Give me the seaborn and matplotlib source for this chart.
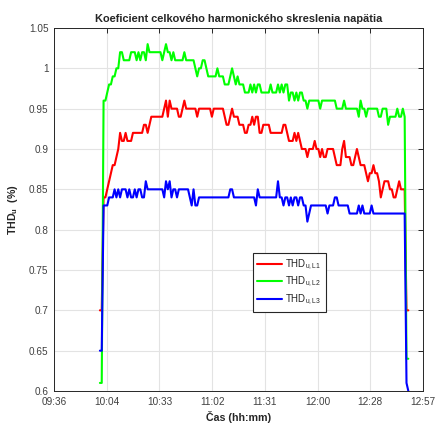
import numpy as np
import pandas as pd
import matplotlib
matplotlib.use("Agg")
import matplotlib.pyplot as plt
import seaborn as sns
from matplotlib.lines import Line2D

# time in minutes after 09:36, one sample per minute
minutes = np.arange(25, 194)

thd_l1 = [
    0.70, 0.70, 0.84, 0.84, 0.85, 0.86, 0.87, 0.88, 0.88, 0.89,
    0.90, 0.92, 0.91, 0.91, 0.92, 0.91, 0.91, 0.91, 0.92, 0.92,
    0.92, 0.92, 0.92, 0.92, 0.93, 0.93, 0.92, 0.93, 0.94, 0.94,
    0.94, 0.94, 0.94, 0.94, 0.94, 0.95, 0.96, 0.94, 0.96, 0.95,
    0.95, 0.95, 0.95, 0.94, 0.94, 0.95, 0.96, 0.95, 0.95, 0.95,
    0.95, 0.95, 0.95, 0.94, 0.95, 0.95, 0.95, 0.95, 0.95, 0.95,
    0.95, 0.94, 0.95, 0.95, 0.95, 0.95, 0.95, 0.95, 0.94, 0.93,
    0.93, 0.94, 0.95, 0.94, 0.94, 0.94, 0.93, 0.93, 0.93, 0.92,
    0.92, 0.93, 0.93, 0.94, 0.93, 0.94, 0.94, 0.92, 0.92, 0.93,
    0.93, 0.93, 0.93, 0.92, 0.92, 0.92, 0.92, 0.92, 0.92, 0.92,
    0.93, 0.93, 0.92, 0.91, 0.91, 0.91, 0.92, 0.91, 0.92, 0.91,
    0.90, 0.90, 0.90, 0.89, 0.90, 0.90, 0.90, 0.91, 0.90, 0.90,
    0.89, 0.90, 0.89, 0.89, 0.90, 0.90, 0.90, 0.90, 0.89, 0.88,
    0.88, 0.88, 0.90, 0.91, 0.89, 0.89, 0.89, 0.88, 0.88, 0.89,
    0.90, 0.89, 0.88, 0.88, 0.88, 0.87, 0.86, 0.87, 0.87, 0.88,
    0.87, 0.87, 0.86, 0.84, 0.85, 0.86, 0.86, 0.86, 0.85, 0.85,
    0.84, 0.84, 0.85, 0.86, 0.85, 0.85, 0.85, 0.70, 0.70,
]

thd_l2 = [
    0.61, 0.61, 0.96, 0.96, 0.97, 0.98, 0.98, 0.99, 0.99, 1.00,
    1.00, 1.02, 1.02, 1.01, 1.01, 1.01, 1.01, 1.02, 1.02, 1.02,
    1.01, 1.02, 1.01, 1.02, 1.02, 1.01, 1.03, 1.02, 1.02, 1.02,
    1.02, 1.02, 1.02, 1.02, 1.01, 1.02, 1.03, 1.02, 1.02, 1.01,
    1.02, 1.01, 1.01, 1.01, 1.01, 1.01, 1.02, 1.01, 1.01, 1.01,
    1.01, 1.01, 1.00, 0.99, 1.00, 1.00, 1.01, 1.01, 1.00, 0.99,
    0.99, 0.99, 0.99, 0.99, 1.00, 0.99, 0.99, 0.99, 0.98, 0.98,
    0.98, 0.99, 1.00, 0.99, 0.98, 0.99, 0.98, 0.98, 0.98, 0.97,
    0.97, 0.97, 0.98, 0.97, 0.98, 0.97, 0.98, 0.98, 0.97, 0.97,
    0.97, 0.97, 0.97, 0.98, 0.97, 0.97, 0.97, 0.98, 0.97, 0.98,
    0.97, 0.98, 0.98, 0.96, 0.97, 0.97, 0.96, 0.97, 0.96, 0.97,
    0.97, 0.96, 0.96, 0.95, 0.96, 0.96, 0.96, 0.96, 0.96, 0.96,
    0.95, 0.96, 0.96, 0.96, 0.96, 0.96, 0.96, 0.96, 0.96, 0.95,
    0.95, 0.95, 0.95, 0.96, 0.95, 0.95, 0.95, 0.95, 0.95, 0.95,
    0.95, 0.94, 0.96, 0.95, 0.95, 0.94, 0.95, 0.95, 0.95, 0.95,
    0.95, 0.95, 0.94, 0.94, 0.95, 0.95, 0.95, 0.93, 0.94, 0.94,
    0.94, 0.94, 0.95, 0.94, 0.94, 0.95, 0.94, 0.64, 0.64,
]

thd_l3 = [
    0.65, 0.65, 0.83, 0.83, 0.83, 0.84, 0.84, 0.84, 0.85, 0.84,
    0.85, 0.84, 0.85, 0.85, 0.85, 0.84, 0.85, 0.84, 0.84, 0.85,
    0.84, 0.85, 0.85, 0.84, 0.84, 0.86, 0.85, 0.85, 0.85, 0.85,
    0.85, 0.85, 0.85, 0.85, 0.85, 0.84, 0.86, 0.85, 0.86, 0.84,
    0.85, 0.85, 0.84, 0.85, 0.85, 0.85, 0.85, 0.85, 0.85, 0.84,
    0.83, 0.85, 0.83, 0.83, 0.84, 0.84, 0.84, 0.84, 0.84, 0.84,
    0.84, 0.84, 0.84, 0.84, 0.84, 0.84, 0.84, 0.84, 0.84, 0.84,
    0.84, 0.85, 0.85, 0.84, 0.84, 0.84, 0.84, 0.84, 0.84, 0.84,
    0.84, 0.84, 0.84, 0.84, 0.84, 0.83, 0.85, 0.84, 0.84, 0.84,
    0.84, 0.84, 0.84, 0.84, 0.84, 0.84, 0.84, 0.86, 0.84, 0.84,
    0.83, 0.84, 0.84, 0.83, 0.84, 0.83, 0.84, 0.84, 0.83, 0.84,
    0.84, 0.83, 0.83, 0.81, 0.82, 0.83, 0.83, 0.83, 0.83, 0.83,
    0.83, 0.83, 0.83, 0.83, 0.82, 0.83, 0.83, 0.83, 0.84, 0.84,
    0.83, 0.83, 0.83, 0.83, 0.83, 0.83, 0.82, 0.82, 0.82, 0.82,
    0.82, 0.83, 0.82, 0.83, 0.82, 0.82, 0.82, 0.82, 0.83, 0.82,
    0.82, 0.82, 0.82, 0.82, 0.82, 0.82, 0.82, 0.82, 0.82, 0.82,
    0.82, 0.82, 0.82, 0.82, 0.82, 0.82, 0.82, 0.61, 0.60,
]

series_labels = [r"THD$_{\mathregular{u,L1}}$", r"THD$_{\mathregular{u,L2}}$", r"THD$_{\mathregular{u,L3}}$"]
series_colors = ["#ff0000", "#00ff00", "#0000ff"]
tick_labels = ["09:36", "10:04", "10:33", "11:02", "11:31", "12:00", "12:28", "12:57"]
y_ticks = [0.6, 0.65, 0.7, 0.75, 0.8, 0.85, 0.9, 0.95, 1.0, 1.05]
y_tick_labels = ["0.6", "0.65", "0.7", "0.75", "0.8", "0.85", "0.9", "0.95", "1", "1.05"]

df = pd.concat([
    pd.DataFrame({"t": minutes, "v": vals, "s": lab})
    for vals, lab in zip([thd_l1, thd_l2, thd_l3], series_labels)
])

sns.set_style("white")
plt.rcParams["font.family"] = ["Liberation Sans", "DejaVu Sans"]
plt.rcParams["mathtext.fontset"] = "custom"
plt.rcParams["mathtext.rm"] = "Liberation Sans"
plt.rcParams["mathtext.it"] = "Liberation Sans"

fig = plt.figure(figsize=(4.38, 4.30), dpi=100)
ax = fig.add_axes([0.1233, 0.0907, 0.8425, 0.8442])

sns.lineplot(data=df, x="t", y="v", hue="s", palette=dict(zip(series_labels, series_colors)),
             linewidth=1.5, ax=ax, legend=False, estimator=None, sort=False)

ax.set_xlim(0, 201)
ax.set_ylim(0.6, 1.05)
ax.set_xticks(np.linspace(0, 201, 8))
ax.set_xticklabels(tick_labels)
ax.set_yticks(y_ticks)
ax.set_yticklabels(y_tick_labels)

ax.grid(True, color="#e3e3e3", linewidth=0.8)
ax.set_axisbelow(True)
for sp in ax.spines.values():
    sp.set_color("#262626")
    sp.set_linewidth(0.7)
ax.tick_params(axis="both", which="both", direction="in", length=3.5, width=0.7,
               colors="#262626", labelsize=7.2, top=True, right=True, pad=4)
for lbl in ax.get_xticklabels() + ax.get_yticklabels():
    lbl.set_color("#404040")

ax.set_title("Koeficient celkového harmonického skreslenia napätia", fontsize=7.9,
             fontweight="bold", pad=4)
ax.set_xlabel("Čas (hh:mm)", fontsize=7.7, fontweight="bold", labelpad=3)
ax.set_ylabel(r"THD$_{\mathregular{u}}$  (%)", fontsize=7.7, fontweight="bold", labelpad=6)

handles = [Line2D([0], [0], color=c, lw=1.5) for c in series_colors]
leg = ax.legend(handles, series_labels, loc="upper left", bbox_to_anchor=(0.539, 0.380),
                borderaxespad=0, fontsize=7, handlelength=2.5, frameon=True,
                fancybox=False, edgecolor="#262626", framealpha=1, labelspacing=0.35,
                handletextpad=0.35, borderpad=0.45)
leg.get_frame().set_linewidth(0.8)

fig.savefig("out.png", dpi=100)
